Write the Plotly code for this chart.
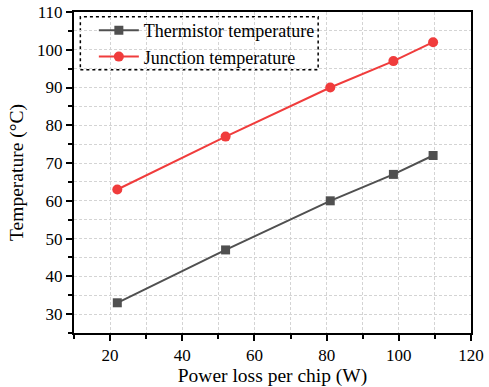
import plotly.graph_objects as go

power = [22, 52, 81, 98.5, 109.5]
thermistor = [33, 47, 60, 67, 72]
junction = [63, 77, 90, 97, 102]

FONT = "Liberation Serif, Times New Roman, serif"

fig = go.Figure()
fig.add_trace(go.Scatter(x=power, y=thermistor, mode="lines+markers",
                         name="Thermistor temperature",
                         line=dict(color="#505050", width=2),
                         marker=dict(symbol="square", size=9, color="#505050")))
fig.add_trace(go.Scatter(x=power, y=junction, mode="lines+markers",
                         name="Junction temperature",
                         line=dict(color="#F03C3C", width=2),
                         marker=dict(symbol="circle", size=10, color="#F03C3C")))

GRIDC = "#d4d4d4"
grid = dict(showgrid=True, gridcolor=GRIDC, griddash="3px,2px", gridwidth=1)
fig.update_xaxes(range=[10, 120], dtick=20, tick0=0, ticks="outside", ticklen=6,
                 tickwidth=1.5, tickcolor="black", automargin=False,
                 minor=dict(dtick=10, ticks="outside", ticklen=4, tickcolor="black",
                            showgrid=True, gridcolor=GRIDC, griddash="3px,2px"),
                 showline=True, linecolor="black", linewidth=2, mirror=True,
                 zeroline=False,
                 title=dict(text="Power loss per chip (W)", font=dict(size=19.5, family=FONT, color="black"), standoff=6),
                 tickfont=dict(size=17, family=FONT, color="black"), **grid)
fig.update_yaxes(range=[25, 110], dtick=10, tick0=0, ticks="outside", ticklen=6,
                 tickwidth=1.5, tickcolor="black", automargin=False,
                 minor=dict(dtick=5, ticks="outside", ticklen=4, tickcolor="black",
                            showgrid=True, gridcolor=GRIDC, griddash="3px,2px"),
                 showline=True, linecolor="black", linewidth=2, mirror=True,
                 zeroline=False,
                 title=dict(text="Temperature (°C)", font=dict(size=19.5, family=FONT, color="black"), standoff=8),
                 tickfont=dict(size=17, family=FONT, color="black"), **grid)

fig.add_shape(type="rect", xref="paper", yref="paper",
              x0=0.016, x1=0.615, y0=0.82, y1=0.985,
              line=dict(color="black", width=1.5, dash="dot"), fillcolor="white", layer="below")

fig.update_layout(
    width=489, height=387,
    margin=dict(l=74, r=18, t=12, b=54),
    paper_bgcolor="white", plot_bgcolor="white",
    font=dict(family=FONT, color="black"),
    showlegend=True,
    legend=dict(x=0.05, y=1.0, xanchor="left", yanchor="top",
                bgcolor="rgba(0,0,0,0)", borderwidth=0,
                font=dict(size=18, family=FONT, color="black"),
                tracegroupgap=0, itemwidth=40),
)
fig.write_html("out.html")
